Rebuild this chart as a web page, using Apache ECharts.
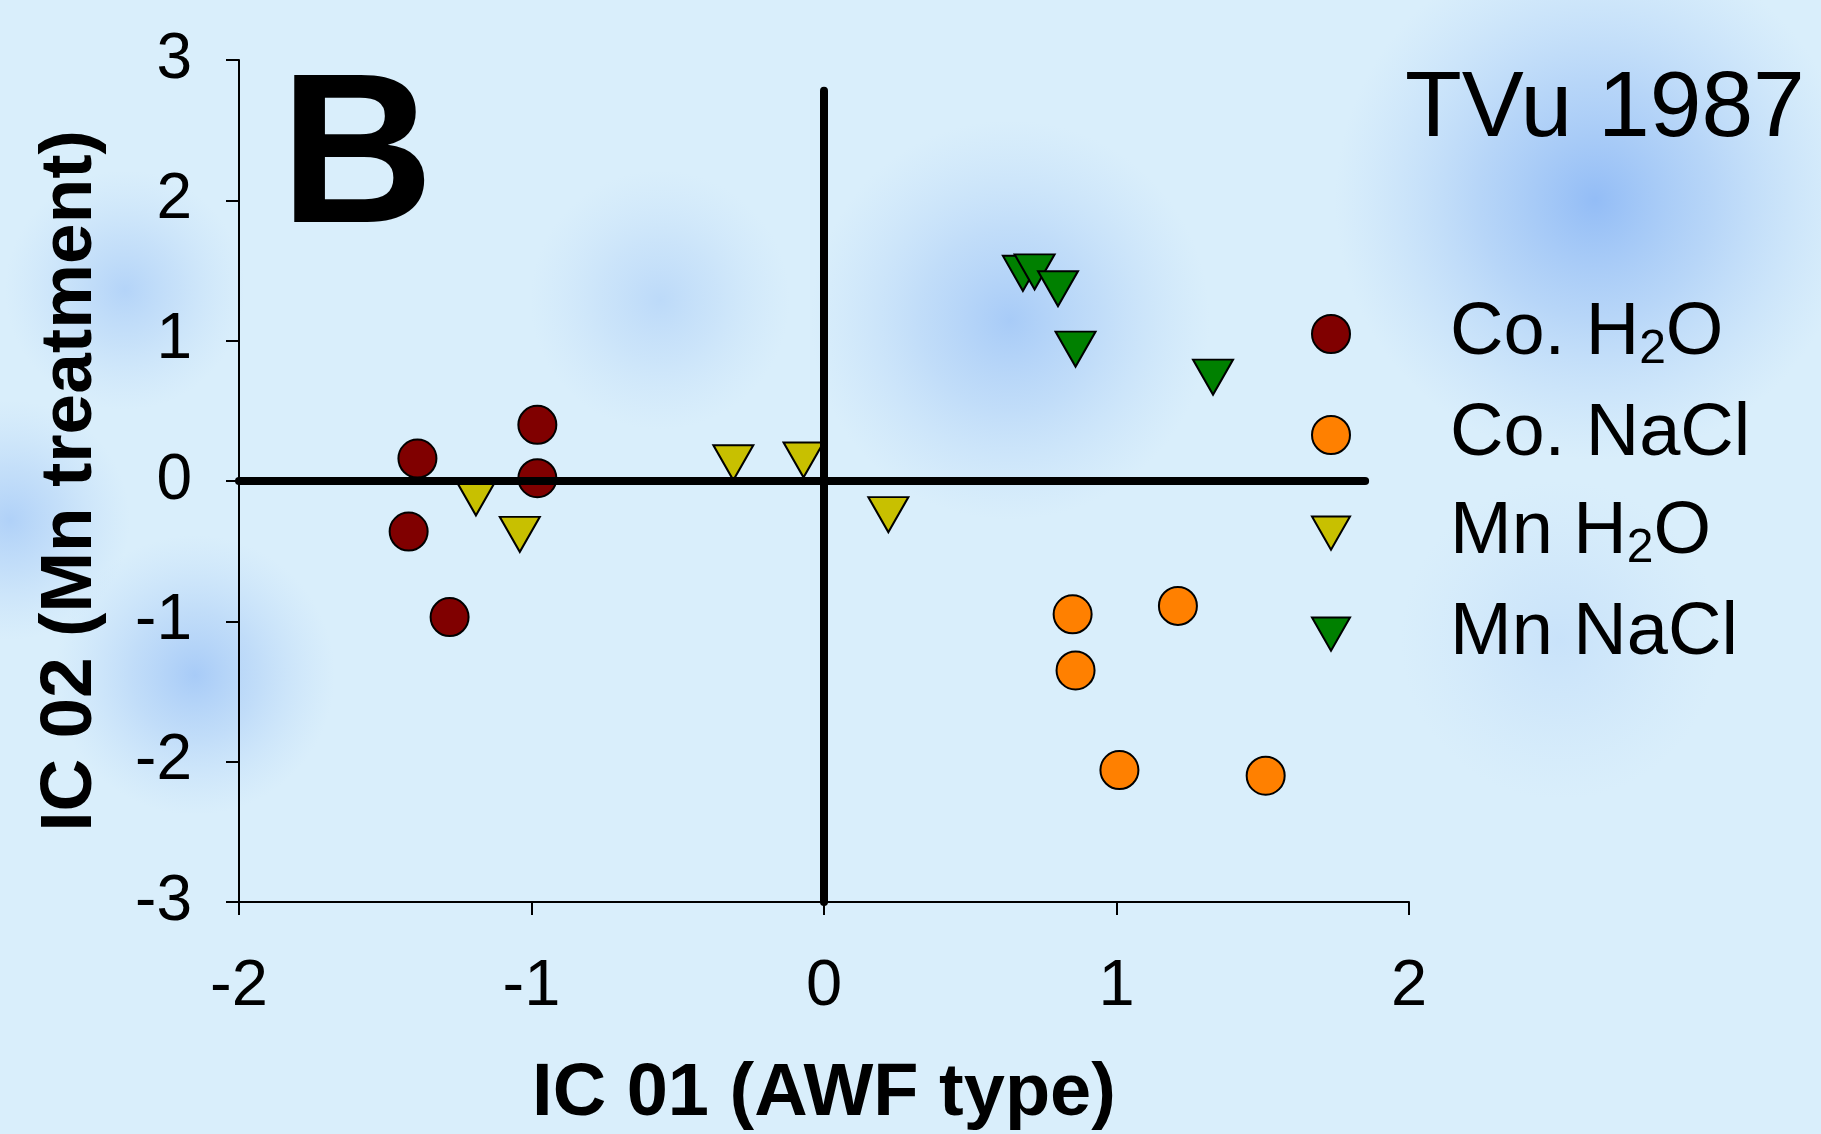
<!DOCTYPE html>
<html>
<head>
<meta charset="utf-8">
<script src="https://cdn.jsdelivr.net/npm/echarts@6/dist/echarts.min.js"></script>
<style>
  html, body { margin: 0; padding: 0; }
  #chart { width: 1821px; height: 1134px; }
</style>
</head>
<body>
<div id="chart"></div>
<script>
// IC scores, [IC 01, IC 02]
const coH2O = [[-1.39, 0.16], [-0.98, 0.40], [-0.98, 0.02], [-1.42, -0.36], [-1.28, -0.97]]
const coNaCl = [[0.85, -0.95], [1.21, -0.89], [0.86, -1.35], [1.01, -2.06], [1.51, -2.10]]
const mnH2O = [[-1.19, -0.12], [-1.04, -0.38], [-0.31, 0.13], [-0.07, 0.15], [0.22, -0.24]]
const mnNaCl = [[0.68, 1.48], [0.72, 1.49], [0.80, 1.37], [0.86, 0.94], [1.33, 0.74]]

// black cross lines
const hLine = [[-2, 0], [1.85, 0]]
const vLine = [[0, -3], [0, 2.78]]

const seriesNames = ['Co. H2O', 'Co. NaCl', 'Mn H2O', 'Mn NaCl']
const FONT = 'Liberation Sans, Arial, sans-serif'
const TRI = 'path://M0,0L40,0L20,35Z'

const chart = echarts.init(document.getElementById('chart'))

function scatter(name, data, color, symbol, size) {
  return {
    name,
    type: 'scatter',
    data,
    symbol,
    symbolSize: size,
    itemStyle: {
      color,
      borderColor: '#000',
      borderWidth: 2,
      opacity: 1
    },
    z: 2
  }
}

function crossLine(data) {
  return {
    type: 'line',
    data,
    showSymbol: false,
    symbol: 'none',
    silent: true,
    lineStyle: { color: '#000', width: 8, cap: 'round' },
    z: 5
  }
}

// soft blue patches of the background
function blob(cx, cy, r, a) {
  return {
    type: 'circle',
    z: -10,
    silent: true,
    shape: { cx, cy, r },
    style: {
      fill: {
        type: 'radial', x: 0.5, y: 0.5, r: 0.5,
        colorStops: [
          { offset: 0, color: 'rgba(135,180,245,' + a + ')' },
          { offset: 0.45, color: 'rgba(150,190,245,' + (a * 0.6) + ')' },
          { offset: 1, color: 'rgba(170,205,248,0)' }
        ]
      }
    }
  }
}

const option = {
  animation: false,
  backgroundColor: '#d9eefb',
  textStyle: { fontFamily: FONT },
  grid: {
    left: 239,
    right: 412,
    top: 60,
    bottom: 232,
    outerBoundsMode: 'none'
  },
  xAxis: {
    type: 'value',
    min: -2,
    max: 2,
    interval: 1,
    name: 'IC 01 (AWF type)',
    nameLocation: 'middle',
    nameGap: 156,
    nameTextStyle: { fontSize: 74, fontWeight: 'bold', color: '#000', fontFamily: FONT },
    axisLine: { onZero: false, lineStyle: { color: '#000', width: 2 } },
    axisTick: { length: 13, lineStyle: { color: '#000', width: 2 } },
    axisLabel: { margin: 53, fontSize: 65, color: '#000', fontFamily: FONT },
    splitLine: { show: false }
  },
  yAxis: {
    type: 'value',
    min: -3,
    max: 3,
    interval: 1,
    name: 'IC 02 (Mn treatment)',
    nameLocation: 'middle',
    nameGap: 132,
    nameTextStyle: { fontSize: 73, fontWeight: 'bold', color: '#000', fontFamily: FONT },
    axisLine: { onZero: false, lineStyle: { color: '#000', width: 2 } },
    axisTick: { length: 13, lineStyle: { color: '#000', width: 2 } },
    axisLabel: { margin: 47, fontSize: 64, color: '#000', fontFamily: FONT },
    splitLine: { show: false }
  },
  legend: {
    orient: 'vertical',
    left: 1306,
    top: 292,
    itemWidth: 38,
    itemHeight: 38,
    itemGap: 24,
    data: [
      { name: seriesNames[0], icon: 'circle' },
      { name: seriesNames[1], icon: 'circle' },
      { name: seriesNames[2], icon: TRI },
      { name: seriesNames[3], icon: TRI }
    ],
    formatter: function(name) {
      return '{gap| }{t|' + name.replace('H2O', 'H}{s|2}{t|O') + '}'
    },
    textStyle: {
      color: '#000',
      fontFamily: FONT,
      rich: {
        gap: { width: 95 },
        t: { fontSize: 74, lineHeight: 80, color: '#000', fontFamily: FONT },
        s: { fontSize: 48, lineHeight: 2, verticalAlign: 'bottom', color: '#000', fontFamily: FONT }
      }
    }
  },
  graphic: [
    blob(1595, 200, 260, 0.85),
    blob(1010, 320, 200, 0.6),
    blob(660, 300, 130, 0.35),
    blob(195, 675, 140, 0.6),
    blob(125, 290, 120, 0.45),
    blob(10, 520, 120, 0.5),
    blob(1560, 640, 160, 0.2),
    {
      type: 'text',
      left: 280,
      top: 57,
      style: { text: 'B', font: 'bold 213px ' + FONT, fill: '#000' }
    },
    {
      type: 'text',
      left: 1405,
      top: 64,
      style: { text: 'TVu 1987', font: '93px ' + FONT, fill: '#000' }
    }
  ],
  series: [
    scatter(seriesNames[0], coH2O, '#800000', 'circle', 38),
    scatter(seriesNames[1], coNaCl, '#ff8000', 'circle', 38),
    scatter(seriesNames[2], mnH2O, '#c8c000', TRI, [40, 35]),
    scatter(seriesNames[3], mnNaCl, '#008000', TRI, [40, 35]),
    crossLine(hLine),
    crossLine(vLine)
  ]
}

chart.setOption(option)
</script>
</body>
</html>
